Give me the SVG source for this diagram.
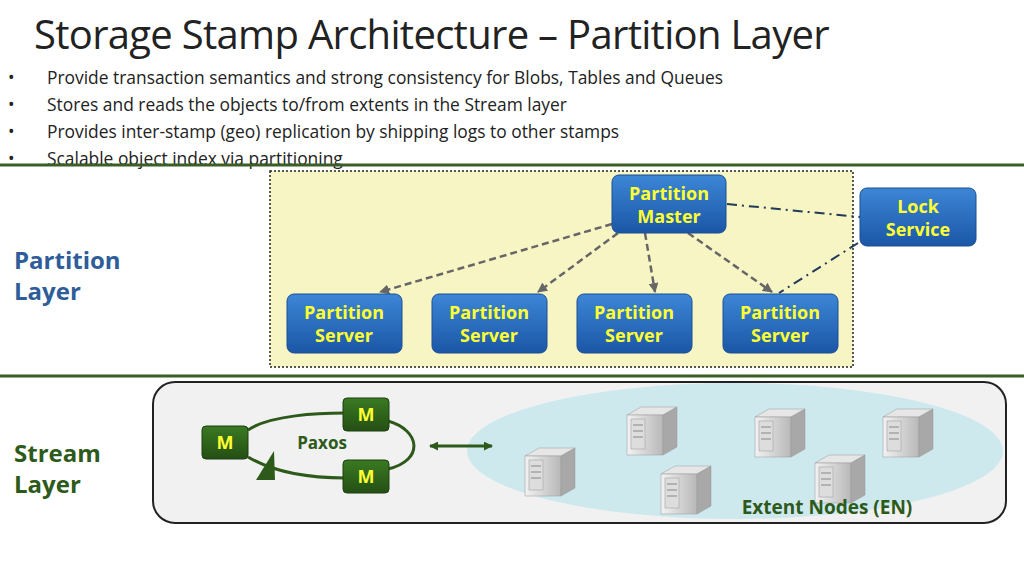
<svg xmlns="http://www.w3.org/2000/svg" width="1024" height="576" viewBox="0 0 1024 576">
<defs>
<linearGradient id="bg" x1="0" y1="0" x2="0" y2="1"><stop offset="0" stop-color="#3d86d6"/><stop offset="1" stop-color="#1b56a6"/></linearGradient>
<linearGradient id="gg" x1="0" y1="0" x2="0" y2="1"><stop offset="0" stop-color="#3a7a22"/><stop offset="1" stop-color="#244f14"/></linearGradient>
<linearGradient id="sv" x1="0" y1="0" x2="1" y2="0"><stop offset="0" stop-color="#f2f2f2"/><stop offset="1" stop-color="#b8b8b8"/></linearGradient>
<marker id="ah" viewBox="0 0 10 10" refX="9" refY="5" markerWidth="4" markerHeight="4" orient="auto"><path d="M0,0L10,5L0,10z" fill="#666"/></marker>
<marker id="ga" viewBox="0 0 10 10" refX="9" refY="5" markerWidth="3" markerHeight="3" orient="auto-start-reverse"><path d="M0,0L10,5L0,10z" fill="#2d5a1b"/></marker>
<g id="srv">
<path d="M0,8 L14,0 L50,0 L36,8 Z" fill="#e6e6e6" stroke="#999" stroke-width="0.5"/>
<rect x="0" y="8" width="36" height="40" fill="url(#sv)" stroke="#999" stroke-width="0.5"/>
<path d="M36,8 L50,0 L50,40 L36,48 Z" fill="#a8a8a8" stroke="#999" stroke-width="0.5"/>
<rect x="4" y="12" width="14" height="30" fill="#ddd" stroke="#999" stroke-width="0.5"/>
<line x1="6" y1="18" x2="16" y2="18" stroke="#888"/><line x1="6" y1="24" x2="16" y2="24" stroke="#888"/><line x1="6" y1="30" x2="16" y2="30" stroke="#888"/>
</g>
</defs>
<style>
.t{font-family:"Open Sans","Liberation Sans",sans-serif;fill:#222}
.b{font-family:"Open Sans","Liberation Sans",sans-serif;font-weight:bold;font-size:18px;fill:#ffff33;text-anchor:middle}
.bx{fill:url(#bg);stroke:#1a4f96;stroke-width:1}
.gx{fill:url(#gg);stroke:#1e4010;stroke-width:1}
.dl{stroke:#666;stroke-width:2.5;stroke-dasharray:7,4;fill:none;marker-end:url(#ah)}
.dd{stroke:#1f3b58;stroke-width:2;stroke-dasharray:10,5,2,5;fill:none}
</style>
<rect width="1024" height="576" fill="#fff"/>
<text x="34" y="49" class="t" font-size="40" letter-spacing="-0.7">Storage Stamp Architecture – Partition Layer</text>
<g class="t" font-size="17.4">
<text x="8" y="84">•</text><text x="47" y="84">Provide transaction semantics and strong consistency for Blobs, Tables and Queues</text>
<text x="8" y="111">•</text><text x="47" y="111">Stores and reads the objects to/from extents in the Stream layer</text>
<text x="8" y="138">•</text><text x="47" y="138">Provides inter-stamp (geo) replication by shipping logs to other stamps</text>
<text x="8" y="165">•</text><text x="47" y="165">Scalable object index via partitioning</text>
</g>
<line x1="0" y1="165" x2="1024" y2="165" stroke="#3b5e24" stroke-width="3"/>
<line x1="0" y1="376" x2="1024" y2="376" stroke="#3b5e24" stroke-width="3"/>
<rect x="270" y="171" width="583" height="196" fill="#f7f5c4" stroke="#222" stroke-width="1.5" stroke-dasharray="2,2"/>
<text x="14" y="269" font-family="Open Sans,Liberation Sans,sans-serif" font-weight="bold" font-size="24" fill="#2e5d9a">Partition</text>
<text x="14" y="300" font-family="Open Sans,Liberation Sans,sans-serif" font-weight="bold" font-size="24" fill="#2e5d9a">Layer</text>
<text x="14" y="462" font-family="Open Sans,Liberation Sans,sans-serif" font-weight="bold" font-size="24" fill="#2d5a1b">Stream</text>
<text x="14" y="493" font-family="Open Sans,Liberation Sans,sans-serif" font-weight="bold" font-size="24" fill="#2d5a1b">Layer</text>
<rect x="153" y="382" width="853" height="141" rx="22" fill="#f1f1f1" stroke="#222" stroke-width="2"/>
<ellipse cx="735" cy="451" rx="268" ry="68" fill="#cde9ee"/>
<g id="connectors">
<path class="dl" d="M612,224 L380,292"/>
<path class="dl" d="M618,233 L538,292"/>
<path class="dl" d="M645,233 L655,292"/>
<path class="dl" d="M688,233 L772,292"/>
<path class="dd" d="M727,204 L860,217"/>
<path class="dd" d="M858,243 L779,293"/>
<line x1="430" y1="446" x2="492" y2="446" stroke="#2d5a1b" stroke-width="3" marker-start="url(#ga)" marker-end="url(#ga)"/>
<path d="M248,430 C270,415 320,413 345,413 M388,421 C420,430 425,460 388,469 M345,478 C300,478 270,470 248,457" fill="none" stroke="#2d5a1b" stroke-width="3"/>
<path d="M256,480 L275,480 L274,451 Z" fill="#2d5a1b"/>
</g>
<g id="pm"><rect class="bx" x="612" y="175" width="114" height="58" rx="7"/><text class="b" x="669" y="200">Partition</text><text class="b" x="669" y="223">Master</text></g>
<g id="ls"><rect class="bx" x="860" y="188" width="116" height="58" rx="7"/><text class="b" x="918" y="213">Lock</text><text class="b" x="918" y="236">Service</text></g>
<g id="ps1"><rect class="bx" x="287" y="294" width="115" height="59" rx="7"/><text class="b" x="344" y="319">Partition</text><text class="b" x="344" y="342">Server</text></g>
<g id="ps2"><rect class="bx" x="432" y="294" width="115" height="59" rx="7"/><text class="b" x="489" y="319">Partition</text><text class="b" x="489" y="342">Server</text></g>
<g id="ps3"><rect class="bx" x="577" y="294" width="115" height="59" rx="7"/><text class="b" x="634" y="319">Partition</text><text class="b" x="634" y="342">Server</text></g>
<g id="ps4"><rect class="bx" x="723" y="294" width="115" height="59" rx="7"/><text class="b" x="780" y="319">Partition</text><text class="b" x="780" y="342">Server</text></g>
<g id="m1"><rect class="gx" x="202" y="426" width="46" height="33" rx="4"/><text class="b" x="225" y="449">M</text></g>
<g id="m2"><rect class="gx" x="343" y="398" width="46" height="33" rx="4"/><text class="b" x="366" y="421">M</text></g>
<g id="m3"><rect class="gx" x="343" y="460" width="46" height="33" rx="4"/><text class="b" x="366" y="483">M</text></g>
<text x="322" y="449" text-anchor="middle" font-family="Open Sans,Liberation Sans,sans-serif" font-weight="bold" font-size="17" fill="#2d5a1b">Paxos</text>
<g id="servers">
<use href="#srv" x="525" y="448"/>
<use href="#srv" x="627" y="407"/>
<use href="#srv" x="661" y="466"/>
<use href="#srv" x="755" y="409"/>
<use href="#srv" x="815" y="455"/>
<use href="#srv" x="883" y="409"/>
</g>
<text x="827" y="514" text-anchor="middle" font-family="Open Sans,Liberation Sans,sans-serif" font-weight="bold" font-size="19" fill="#2d5a1b">Extent Nodes (EN)</text>
</svg>
